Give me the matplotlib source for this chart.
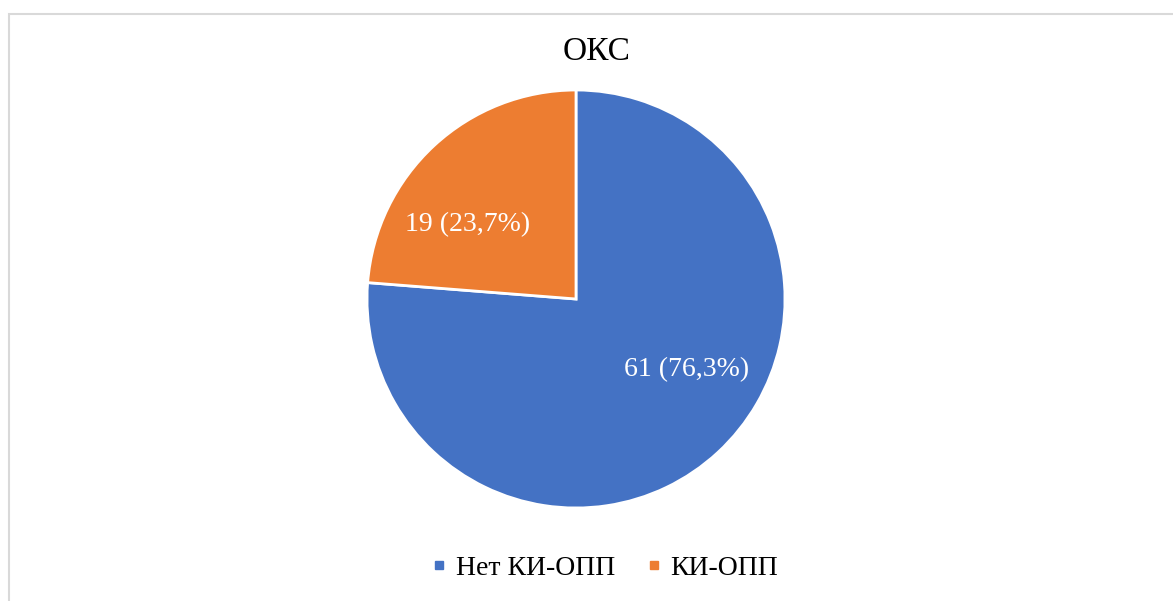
import matplotlib.pyplot as plt
from matplotlib.lines import Line2D
from matplotlib.patches import Rectangle

plt.rcParams['font.family'] = ['Liberation Serif', 'DejaVu Serif']

title = 'ОКС'
categories = ['Нет КИ-ОПП', 'КИ-ОПП']
counts = [61, 19]
percents = ['76,3%', '23,7%']
colors = ['#4472C4', '#ED7D31']

W, H = 1173, 601
fig = plt.figure(figsize=(W / 100, H / 100), dpi=100)

# light grey chart-area frame (runs off the right and bottom edges)
fig.patches.append(Rectangle((9 / W, -0.1), 1.2, (H - 14) / H + 0.1,
                             transform=fig.transFigure, fill=False,
                             edgecolor='#D9D9D9', linewidth=1.5))

cx, cy, r = 576, 299, 209
ax = fig.add_axes([(cx - r) / W, (H - cy - r) / H, 2 * r / W, 2 * r / H])
ax.pie(counts, colors=colors, startangle=90, counterclock=False, radius=1,
       wedgeprops=dict(edgecolor='white', linewidth=2))
ax.set_xlim(-1, 1)
ax.set_ylim(-1, 1)
ax.set_aspect('auto')
ax.axis('off')

# data labels (positions relative to pie radius, as in the original)
label_pos = [(0.53, -0.34), (-0.52, 0.355)]
for (lx, ly), n, p in zip(label_pos, counts, percents):
    ax.text(lx, ly, '{} ({})'.format(n, p), color='white', fontsize=20,
            ha='center', va='center')

fig.text(597 / W, 1 - 52 / H, title, fontsize=24, ha='center', va='center')

handles = [Line2D([], [], marker='s', linestyle='', markersize=6,
                  markerfacecolor=c, markeredgecolor=c) for c in colors]
fig.legend(handles, categories, loc='center', bbox_to_anchor=(603 / W, 1 - 568 / H),
           ncol=2, frameon=False, fontsize=20, handletextpad=0.2,
           columnspacing=1.0, handlelength=0.8)

fig.savefig('out.png', dpi=100)
